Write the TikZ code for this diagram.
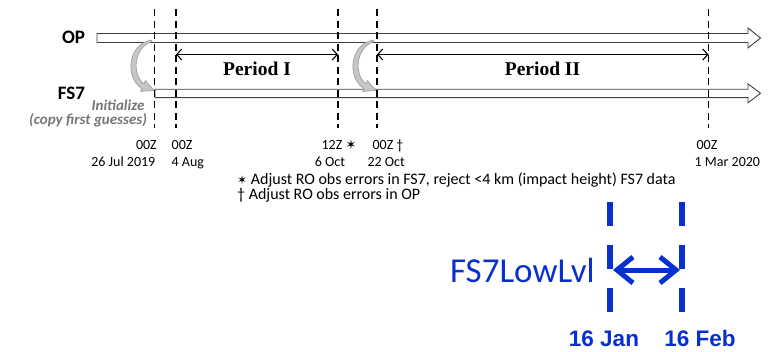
\documentclass[tikz,border=0pt]{standalone}
\usepackage{fontspec}
\setmainfont{Carlito}
\newfontfamily\serifb{Liberation Serif}
\newfontfamily\arialf{Liberation Sans}
\newfontfamily\symf{DejaVu Sans}
\usetikzlibrary{arrows.meta}
\definecolor{barline}{RGB}{64,64,64}
\definecolor{lowblue}{RGB}{8,48,204}
\definecolor{initgray}{RGB}{118,118,118}
\begin{document}
\begin{tikzpicture}[x=1pt,y=-1pt,
  timeline/.style={draw=barline, line width=0.9pt, fill=white},
  cutline/.style={draw=black, line width=1.8pt, dash pattern=on 7pt off 4.5pt},
  periodarrow/.style={line width=1.1pt, {Straight Barb[length=5pt,width=11pt]}-{Straight Barb[length=5pt,width=11pt]}},
  initarrow/.style={fill=gray!45, draw=gray!80, line width=0.6pt},
  rowlabel/.style={anchor=base east, font=\bfseries\fontsize{19}{22}\selectfont},
  inittext/.style={anchor=base east, text=initgray, font=\bfseries\itshape\fontsize{15}{17}\selectfont},
  periodlabel/.style={anchor=base, font=\serifb\bfseries\fontsize{19.5}{22}\selectfont},
  datetext/.style={font=\fontsize{14}{16}\selectfont, inner sep=0pt},
  notetext/.style={anchor=base west, font=\fontsize{16}{18}\selectfont, inner sep=0pt},
  lowdash/.style={draw=lowblue, line width=6pt, dash pattern=on 24pt off 19pt},
  lowarrow/.style={draw=lowblue, line width=5pt, {Straight Barb[length=16pt,width=26pt]}-{Straight Barb[length=16pt,width=26pt]}},
  lowdate/.style={anchor=base, text=lowblue, font=\arialf\bfseries\fontsize{22.5}{26}\selectfont, inner sep=0pt}
]
\useasboundingbox (0,0) rectangle (774,351);

% timelines
\path[timeline] (97,33.5) -- (748,33.5) -- (748,28) -- (760.5,38) -- (748,48) -- (748,42.5) -- (97,42.5) -- cycle;
\path[timeline] (155,89.2) -- (748,89.2) -- (748,83.8) -- (760.5,93.3) -- (748,102.8) -- (748,97.6) -- (155,97.6) -- cycle;

% initialize arrows
\path[initarrow] (151,40) .. controls (127,45) and (125,78) .. (142,88.7) -- (140.5,91.4) -- (154,90.5) -- (145.5,80.6) -- (144,83.7) .. controls (132,75) and (133,48) .. (152,41.5) -- cycle;
\begin{scope}[xshift=222pt]
\path[initarrow] (151,40) .. controls (127,45) and (125,78) .. (142,88.7) -- (140.5,91.4) -- (154,90.5) -- (145.5,80.6) -- (144,83.7) .. controls (132,75) and (133,48) .. (152,41.5) -- cycle;
\end{scope}

% dashed cut lines
\foreach \n/\x in {a/154.5,b/176,c/338,d/377,e/708.5}{
  \coordinate (\n top) at (\x,9);
  \coordinate (\n bot) at (\x,128);
  \draw[cutline] (\n top) -- (\n bot);
}

% period arrows
\coordinate (p1a) at (176,54.5);
\coordinate (p1b) at (338,54.5);
\coordinate (p2a) at (377,54.5);
\coordinate (p2b) at (708.5,54.5);
\draw[periodarrow] (p1a) -- (p1b);
\draw[periodarrow] (p2a) -- (p2b);
\node[periodlabel] (per1) at (257,75) {Period I};
\node[periodlabel] (per2) at (542.5,75) {Period II};

% row labels
\node[rowlabel] (op) at (88.5,43.5) {OP};
\node[rowlabel] (fs7) at (88.5,99) {FS7};
\node[inittext] (init1) at (148,110) {Initialize};
\node[inittext] (init2) at (150.5,124) {(copy first guesses)};

% dates
\node[datetext, anchor=base east] (t1a) at (157,149) {00Z};
\node[datetext, anchor=base east] (t1b) at (155.5,166.5) {26 Jul 2019};
\node[datetext, anchor=base west] (t2a) at (171.5,149) {00Z};
\node[datetext, anchor=base west] (t2b) at (171.5,166.5) {4 Aug};
\node[datetext, anchor=base] (t3a) at (339,149) {12Z {\symf\fontsize{13}{14}\selectfont ✶}};
\node[datetext, anchor=base] (t3b) at (330,166.5) {6 Oct};
\node[datetext, anchor=base] (t4a) at (388,149) {00Z †};
\node[datetext, anchor=base east] (t4b) at (405,166.5) {22 Oct};
\node[datetext, anchor=base] (t5a) at (707,149) {00Z};
\node[datetext, anchor=base west] (t5b) at (694.5,166.5) {1 Mar 2020};

% notes
\node[notetext] (note1) at (237,184) {{\symf\fontsize{12}{14}\selectfont ✶} Adjust RO obs errors in FS7, reject <4 km (impact height) FS7 data};
\node[notetext] (note2) at (237,199) {† Adjust RO obs errors in OP};

% FS7LowLvl
\coordinate (b1top) at (610,202);
\coordinate (b1bot) at (610,312);
\coordinate (b2top) at (682,202);
\coordinate (b2bot) at (682,312);
\draw[lowdash] (b1top) -- (b1bot);
\draw[lowdash] (b2top) -- (b2bot);
\coordinate (la) at (613,270);
\coordinate (lb) at (680,270);
\draw[lowarrow] (la) -- (lb);
\node[anchor=base east, text=lowblue, font=\fontsize{35}{40}\selectfont, inner sep=0pt] (lowlbl) at (595,282) {FS7LowLvl};
\node[lowdate] (jan) at (604,346.5) {16 Jan};
\node[lowdate] (feb) at (700,346.5) {16 Feb};
\end{tikzpicture}
\end{document}
